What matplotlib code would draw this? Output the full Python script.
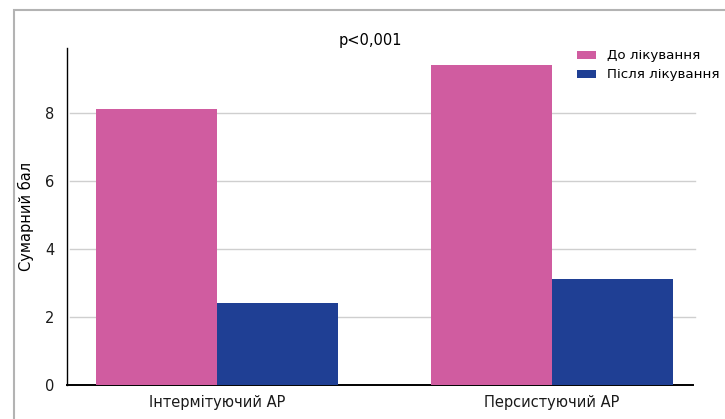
import matplotlib.pyplot as plt
import numpy as np
from matplotlib.patches import Rectangle

categories = ['Інтермітуючий АР', 'Персистуючий АР']
before = [8.1, 9.4]
after = [2.4, 3.1]
series_names = ['До лікування', 'Після лікування']
colors = ['#D05CA0', '#1F3F94']

plt.rcParams['font.family'] = ['DejaVu Sans']

fig = plt.figure(figsize=(7.25, 4.19), dpi=100)
fig.patches.append(Rectangle((14 / 725, -0.1), 1.2, 1 - 10 / 419 + 0.1,
                             transform=fig.transFigure, fill=False,
                             edgecolor='#b3b3b3', linewidth=1.5))

ax = fig.add_axes([67 / 725, 1 - 385 / 419, 626 / 725, 337 / 419])
x = np.arange(len(categories))
w = 0.361
ax.bar(x - w / 2, before, w, color=colors[0], label=series_names[0], zorder=3)
ax.bar(x + w / 2, after, w, color=colors[1], label=series_names[1], zorder=3)

ax.set_xlim(-0.448, 0.421 + 1)
ax.set_ylim(0, 9.9)
ax.set_yticks([0, 2, 4, 6, 8])
for v in [2, 4, 6, 8]:
    ax.axhline(v, xmin=0.005, xmax=1.003, color='#cfcfcf', lw=1.0, zorder=1, clip_on=False)

ax.set_xticks(x)
ax.set_xticklabels(categories)
ax.tick_params(length=0, labelsize=10.5, colors='#1a1a1a')
ax.tick_params(axis='y', pad=9)
ax.tick_params(axis='x', pad=7)
for s in ['top', 'right']:
    ax.spines[s].set_visible(False)
ax.spines['left'].set_linewidth(1.0)
ax.spines['bottom'].set_linewidth(1.4)
ax.set_ylabel('Сумарний бал', fontsize=10.5, labelpad=8)

fig.text(370 / 725, 1 - 40 / 419, 'p<0,001', ha='center', va='center', fontsize=10.5)

ax.legend(loc='upper left', bbox_to_anchor=(572 / 725, 1 - 44 / 419),
          bbox_transform=fig.transFigure, frameon=False, fontsize=9.6,
          handlelength=1.4, handleheight=0.55, handletextpad=0.8,
          labelspacing=0.45, borderaxespad=0)

fig.savefig('out.png', dpi=100)
